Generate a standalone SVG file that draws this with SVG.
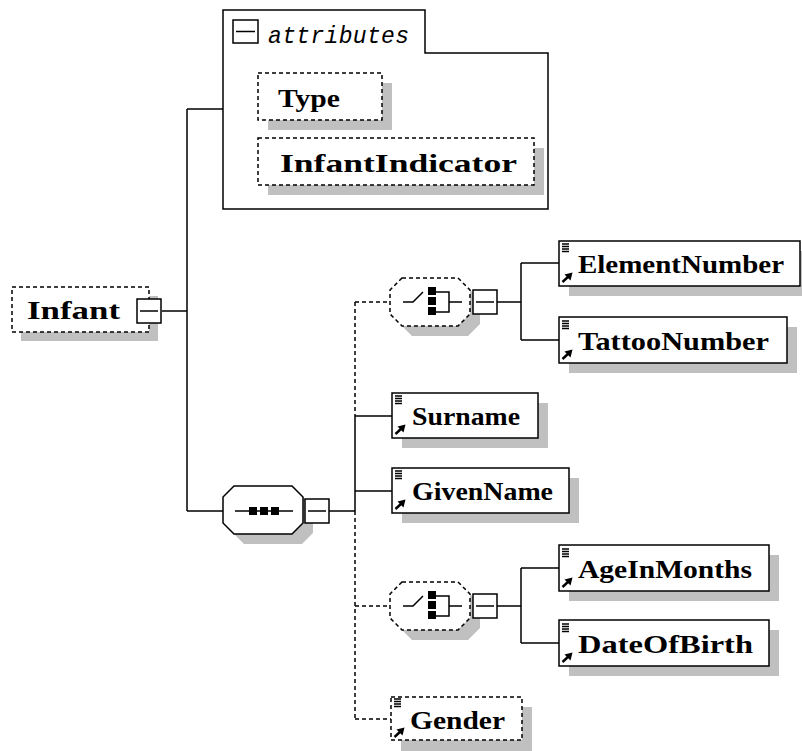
<svg xmlns="http://www.w3.org/2000/svg" xmlns:xlink="http://www.w3.org/1999/xlink" width="802" height="751" viewBox="0 0 802 751">
<style>
.box{fill:#fff;stroke:#000;stroke-width:1.5}
.dbox{fill:#fff;stroke:#000;stroke-width:1.5;stroke-dasharray:4 3}
.sh{fill:#c0c0c0;stroke:none}
.ln{fill:none;stroke:#000;stroke-width:1.5}
.dl{fill:none;stroke:#000;stroke-width:1.5;stroke-dasharray:4 3}
.t{font-family:"Liberation Serif",serif;font-weight:bold;font-size:25px;fill:#000}
.it{font-family:"Liberation Mono",monospace;font-style:italic;font-size:23px;fill:#000}
</style>
<defs>
<g id="minus"><rect x="0" y="0" width="24" height="24" class="box"/><path d="M3,12H21" class="ln"/></g>
<g id="elicon">
<path d="M3,3H10M3,5.5H10M3,8H10M3,10.5H10" stroke="#000" stroke-width="1.3" fill="none"/>
<path d="M3.5,41L10,35" stroke="#000" stroke-width="2.4" fill="none"/>
<polygon points="13.5,31.5 5.5,33.5 11.5,39.5" fill="#000"/>
</g>
<g id="choiceicon">
<path d="M13,24H23L33,14" class="ln"/>
<rect x="38" y="9" width="8" height="8" fill="#000"/>
<rect x="38" y="19" width="8" height="8" fill="#000"/>
<rect x="38" y="29" width="8" height="8" fill="#000"/>
<path d="M46,14H59V34H46M59,24H72" class="ln"/>
</g>
</defs>

<g id="connectors">
<path d="M162,311H187M187,109V511M187,109H223M187,511H223" class="ln"/>
<path d="M329,511H355M355,416V511M355,416H392M355,491H392" class="ln"/>
<path d="M355,302V416M355,511V719M355,302H390M355,606H390M355,719H391" class="dl"/>
<path d="M497,302H521M521,263V340M521,263H559M521,340H559" class="ln"/>
<path d="M497,606H521M521,568V643M521,568H559M521,643H559" class="ln"/>
</g>

<g id="infant">
<rect x="21" y="296" width="137" height="45" class="sh"/>
<rect x="12" y="287" width="137" height="45" class="dbox"/>
<text x="27" y="319" class="t" textLength="93" lengthAdjust="spacingAndGlyphs">Infant</text>
<use xlink:href="#minus" x="137" y="299"/>
</g>

<g id="attributes">
<path d="M223,10H425V53H548V209H223Z" class="box"/>
<rect x="233" y="20" width="25" height="23" class="box"/>
<path d="M236,31.5H255" class="ln"/>
<text x="268" y="43" class="it" textLength="141">attributes</text>
</g>

<g id="type">
<rect x="268" y="83" width="124" height="47" class="sh"/>
<rect x="258" y="73" width="124" height="47" class="dbox"/>
<text x="278" y="107" class="t" textLength="62" lengthAdjust="spacingAndGlyphs">Type</text>
</g>

<g id="infantindicator">
<rect x="268" y="148" width="276" height="47" class="sh"/>
<rect x="258" y="138" width="276" height="47" class="dbox"/>
<text x="280" y="172" class="t" textLength="237" lengthAdjust="spacingAndGlyphs">InfantIndicator</text>
</g>

<g id="sequence">
<path d="M244,496H302L313,507V533L302,544H244L233,533V507Z" class="sh"/>
<path d="M234,486H292L303,497V523L292,534H234L223,523V497Z" class="box"/>
<path d="M235,511H293" class="ln"/>
<rect x="249" y="507" width="8" height="8" fill="#000"/>
<rect x="260" y="507" width="8" height="8" fill="#000"/>
<rect x="271" y="507" width="8" height="8" fill="#000"/>
<use xlink:href="#minus" x="305" y="499"/>
</g>

<g id="choice1">
<path d="M412,288H468L480,300V324L468,336H412L400,324V300Z" class="sh"/>
<path d="M402,278H458L470,290V314L458,326H402L390,314V290Z" class="dbox"/>
<use xlink:href="#choiceicon" x="390" y="278"/>
<use xlink:href="#minus" x="473" y="290"/>
</g>

<g id="elementnumber">
<rect x="569" y="251" width="241" height="45" class="sh"/>
<rect x="559" y="241" width="241" height="45" class="box"/>
<use xlink:href="#elicon" x="559" y="241"/>
<text x="578" y="273" class="t" textLength="206" lengthAdjust="spacingAndGlyphs">ElementNumber</text>
</g>

<g id="tattoonumber">
<rect x="569" y="327" width="228" height="46" class="sh"/>
<rect x="559" y="317" width="228" height="46" class="box"/>
<use xlink:href="#elicon" x="559" y="318"/>
<text x="578" y="350" class="t" textLength="191" lengthAdjust="spacingAndGlyphs">TattooNumber</text>
</g>

<g id="surname">
<rect x="402" y="403" width="146" height="45" class="sh"/>
<rect x="392" y="393" width="146" height="45" class="box"/>
<use xlink:href="#elicon" x="392" y="393"/>
<text x="412" y="425" class="t" textLength="108" lengthAdjust="spacingAndGlyphs">Surname</text>
</g>

<g id="givenname">
<rect x="402" y="478" width="177" height="45" class="sh"/>
<rect x="392" y="468" width="177" height="45" class="box"/>
<use xlink:href="#elicon" x="392" y="468"/>
<text x="412" y="500" class="t" textLength="141" lengthAdjust="spacingAndGlyphs">GivenName</text>
</g>

<g id="choice2">
<path d="M412,592H468L480,604V628L468,640H412L400,628V604Z" class="sh"/>
<path d="M402,582H458L470,594V618L458,630H402L390,618V594Z" class="dbox"/>
<use xlink:href="#choiceicon" x="390" y="582"/>
<use xlink:href="#minus" x="473" y="594"/>
</g>

<g id="ageinmonths">
<rect x="569" y="555" width="210" height="46" class="sh"/>
<rect x="559" y="545" width="210" height="46" class="box"/>
<use xlink:href="#elicon" x="559" y="546"/>
<text x="578" y="578" class="t" textLength="174" lengthAdjust="spacingAndGlyphs">AgeInMonths</text>
</g>

<g id="dateofbirth">
<rect x="569" y="630" width="210" height="46" class="sh"/>
<rect x="559" y="620" width="210" height="46" class="box"/>
<use xlink:href="#elicon" x="559" y="621"/>
<text x="578" y="653" class="t" textLength="175" lengthAdjust="spacingAndGlyphs">DateOfBirth</text>
</g>

<g id="gender">
<rect x="401" y="707" width="131" height="44" class="sh"/>
<rect x="391" y="697" width="131" height="43" class="dbox"/>
<use xlink:href="#elicon" x="391" y="696"/>
<text x="410" y="729" class="t" textLength="95" lengthAdjust="spacingAndGlyphs">Gender</text>
</g>
</svg>
